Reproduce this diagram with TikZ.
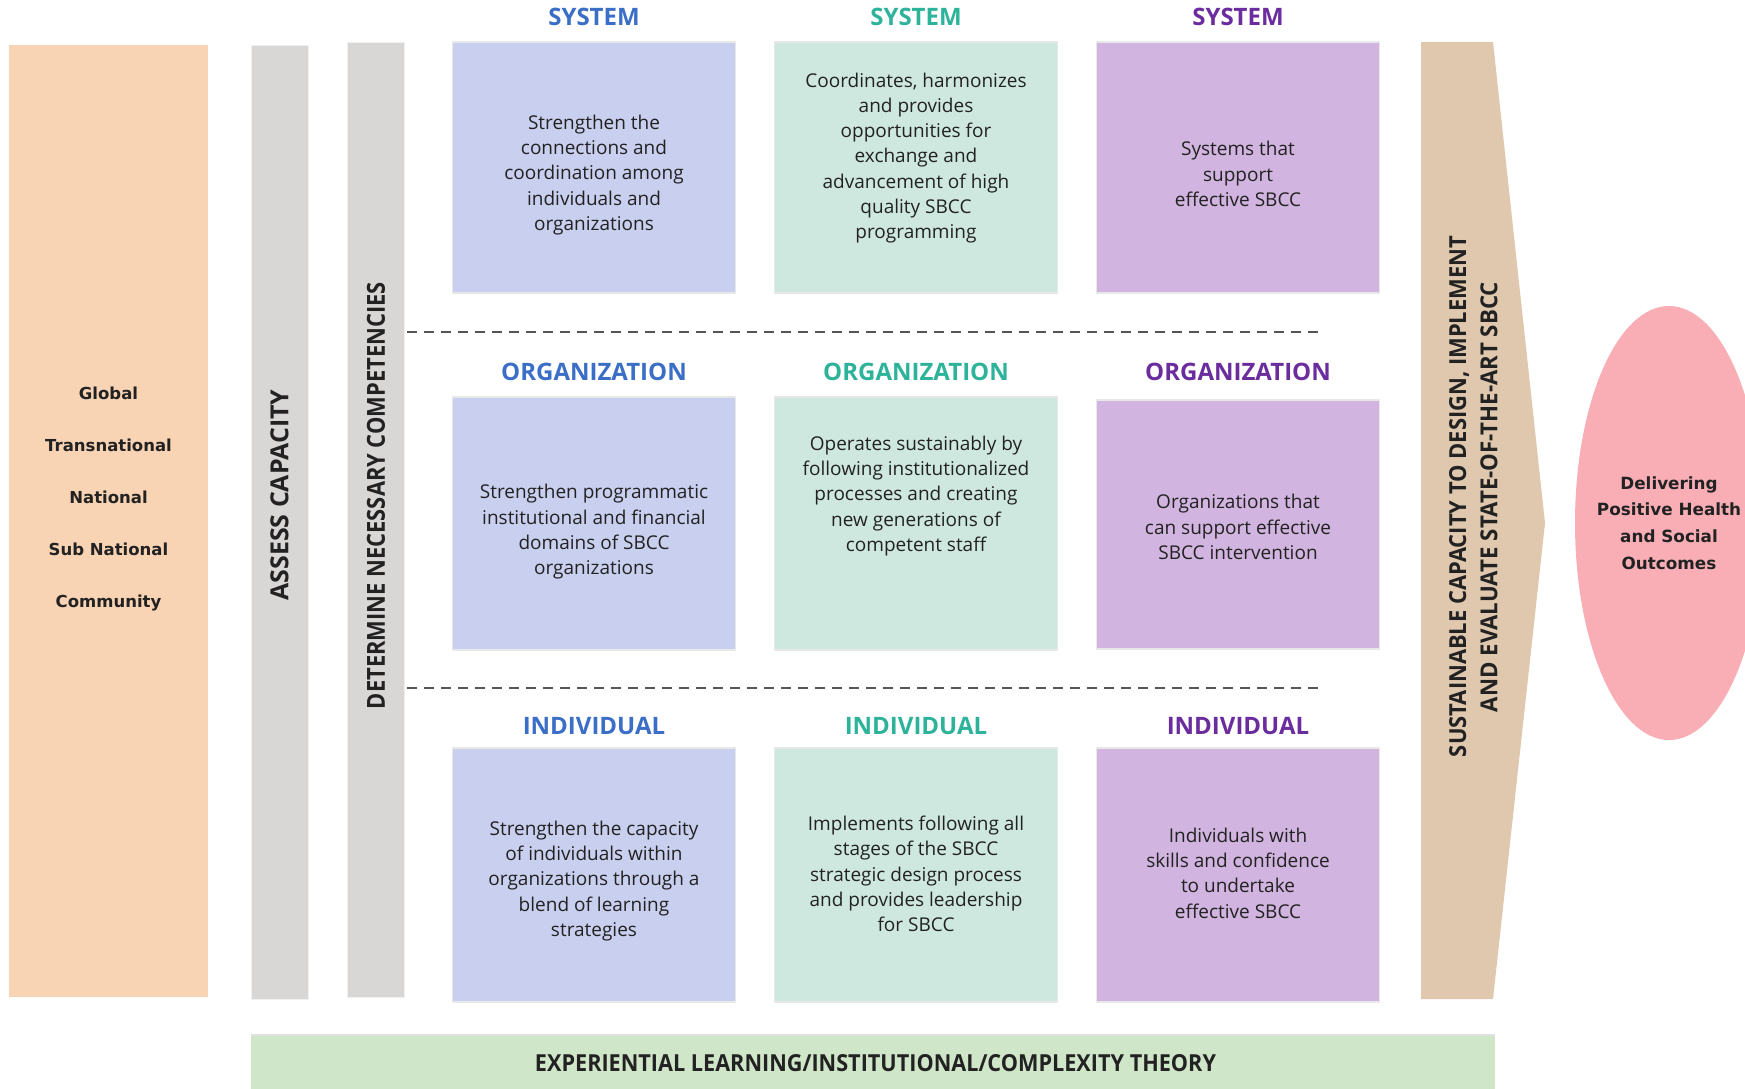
\documentclass[tikz,border=0pt]{standalone}
\usepackage{fontspec}
\usepackage{graphicx}
\usetikzlibrary{shapes.geometric}
\setmainfont{Open Sans}
\newfontfamily\widefont{DejaVu Sans}

\definecolor{peach}{HTML}{F8D3B4}
\definecolor{bargray}{HTML}{D9D6D6}
\definecolor{colA}{HTML}{C9CFEE}
\definecolor{colB}{HTML}{CEE8DF}
\definecolor{colC}{HTML}{D1B4DF}
\definecolor{tanarrow}{HTML}{DFC8AE}
\definecolor{pinkout}{HTML}{F9AEB6}
\definecolor{sage}{HTML}{D0E6C9}
\definecolor{hdA}{HTML}{3B6EC6}
\definecolor{hdB}{HTML}{2EB39B}
\definecolor{hdC}{HTML}{6B2D9E}
\definecolor{txt}{HTML}{222222}
\definecolor{dashgray}{HTML}{555555}

\newcommand{\squeeze}[3]{\resizebox{#1}{#2}{\bfseries #3}}

\tikzset{
  panel/.style={draw=black!9, line width=1.2pt, minimum width=283pt, inner sep=0pt},
  bodytext/.style={align=center, text=txt, font=\fontsize{19}{25.3}\selectfont, inner sep=0pt},
  header/.style={font=\fontsize{24}{28}\selectfont\bfseries, inner sep=0pt},
  bar/.style={fill=bargray, draw=black!6, line width=0.8pt, minimum width=57pt, inner sep=0pt},
  sep/.style={dashgray, line width=2.6pt, dash pattern=on 10pt off 7pt},
  vlabel/.style={rotate=90, text=txt, inner sep=0pt},
}

\begin{document}
\begin{tikzpicture}[x=1pt, y=-1pt]
\useasboundingbox (0,0) rectangle (1745,1088);
\clip (0,0) rectangle (1745,1088);

% levels column
\node[fill=peach, minimum width=199pt, minimum height=952pt, inner sep=0pt] (levels) at (108.5,521) {};
\node[align=center, text=txt, inner sep=0pt, font=\widefont\bfseries\fontsize{16.5}{52}\selectfont] (levtext) at (108.5,499)
  {Global\\Transnational\\National\\Sub National\\Community};

% process bars
\node[bar, minimum height=954pt] (assessbar) at (279.5,522) {};
\node[vlabel] (assess) at (279.5,495) {\squeeze{211pt}{18pt}{ASSESS CAPACITY}};
\node[bar, minimum height=955pt] (compbar) at (375.5,519.5) {};
\node[vlabel] (comp) at (376,495.5) {\squeeze{427pt}{18pt}{DETERMINE NECESSARY COMPETENCIES}};

% column headers
\foreach \y/\lbl/\r in {17/SYSTEM/s, 372/ORGANIZATION/o, 726/INDIVIDUAL/i} {
  \node[header, text=hdA] (\r hA) at (594,\y) {\lbl};
  \node[header, text=hdB] (\r hB) at (916,\y) {\lbl};
  \node[header, text=hdC] (\r hC) at (1238,\y) {\lbl};
}

% system row
\node[panel, fill=colA, minimum height=251pt] (sA) at (594,167.5) {};
\node[panel, fill=colB, minimum height=251pt] (sB) at (916,167.5) {};
\node[panel, fill=colC, minimum height=251pt] (sC) at (1238,167.5) {};
\node[bodytext] (sAt) at (594,175) {Strengthen the\\connections and\\coordination among\\individuals and\\organizations};
\node[bodytext] (sBt) at (916,158) {Coordinates, harmonizes\\and provides\\opportunities for\\exchange and\\advancement of high\\quality SBCC\\programming};
\node[bodytext] (sCt) at (1238,174) {Systems that\\support\\effective SBCC};

% organization row
\node[panel, fill=colA, minimum height=253pt] (oA) at (594,523.5) {};
\node[panel, fill=colB, minimum height=253pt] (oB) at (916,523.5) {};
\node[panel, fill=colC, minimum height=249pt] (oC) at (1238,524.5) {};
\node[bodytext] (oAt) at (594,532) {Strengthen programmatic\\institutional and financial\\domains of SBCC\\organizations};
\node[bodytext] (oBt) at (916,496) {Operates sustainably by\\following institutionalized\\processes and creating\\new generations of\\competent staff};
\node[bodytext] (oCt) at (1238,527) {Organizations that\\can support effective\\SBCC intervention};

% individual row
\node[panel, fill=colA, minimum height=254pt] (iA) at (594,875) {};
\node[panel, fill=colB, minimum height=254pt] (iB) at (916,875) {};
\node[panel, fill=colC, minimum height=254pt] (iC) at (1238,875) {};
\node[bodytext] (iAt) at (594,881) {Strengthen the capacity\\of individuals within\\organizations through a\\blend of learning\\strategies};
\node[bodytext] (iBt) at (916,874) {Implements following all\\stages of the SBCC\\strategic design process\\and provides leadership\\for SBCC};
\node[bodytext] (iCt) at (1238,873) {Individuals with\\skills and confidence\\to undertake\\effective SBCC};

% row separators
\coordinate (d1a) at (407,332);
\coordinate (d1b) at (1319,332);
\coordinate (d2a) at (407,688);
\coordinate (d2b) at (1319,688);
\draw[sep] (d1a) -- (d1b);
\draw[sep] (d2a) -- (d2b);

% sustainable capacity chevron
\fill[tanarrow] (1421,42) -- (1493,42) -- (1545,523) -- (1493,999) -- (1421,999) -- cycle;
\node[vlabel] (sust1) at (1459,496.5) {\squeeze{521pt}{17pt}{SUSTAINABLE CAPACITY TO DESIGN, IMPLEMENT}};
\node[vlabel] (sust2) at (1489,497) {\squeeze{430pt}{17pt}{AND EVALUATE STATE-OF-THE-ART SBCC}};

% outcome
\node[ellipse, fill=pinkout, minimum width=188pt, minimum height=434pt, inner sep=0pt] (outcome) at (1669,523) {};
\node[align=center, text=txt, inner sep=0pt, font=\widefont\bfseries\fontsize{16.8}{26.7}\selectfont] (outtext) at (1669,523)
  {Delivering\\Positive Health\\and Social\\Outcomes};

% theory band
\node[fill=sage, minimum width=1244pt, minimum height=56pt, inner sep=0pt] (theory) at (873,1063) {};
\draw[black!12, line width=1.5pt] (theory.north west) -- (theory.north east);
\node[text=txt, inner sep=0pt] (theorytext) at (875.5,1063) {\squeeze{681pt}{17pt}{EXPERIENTIAL LEARNING/INSTITUTIONAL/COMPLEXITY THEORY}};
\end{tikzpicture}
\end{document}
